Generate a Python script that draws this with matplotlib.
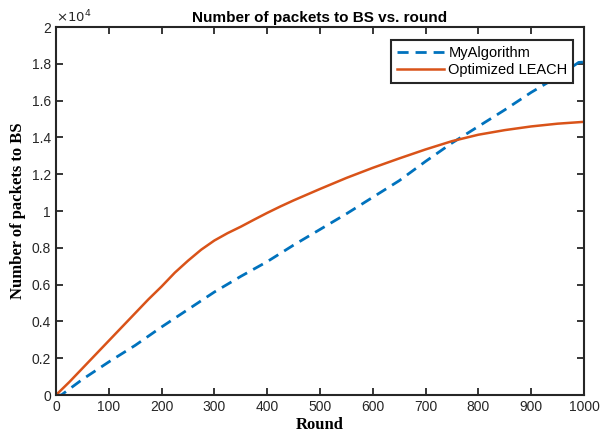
import matplotlib
matplotlib.use("Agg")
import matplotlib.pyplot as plt
from matplotlib.ticker import FuncFormatter

# data
rounds_blue = [0, 10, 50, 100, 150, 200, 250, 300, 350, 400, 450, 500,
               550, 600, 650, 700, 750, 800, 850, 900, 950, 990, 1000]
my_algorithm = [0, 0, 850, 1800, 2700, 3700, 4650, 5600, 6450, 7250, 8150, 9000,
                9850, 10750, 11650, 12700, 13700, 14600, 15500, 16450, 17300, 18080, 18100]

rounds_orange = [0, 25, 50, 75, 100, 125, 150, 175, 200, 225, 250, 275, 300, 325,
                 350, 375, 400, 425, 450, 500, 550, 600, 650, 700, 750, 800,
                 850, 900, 950, 1000]
optimized_leach = [0, 700, 1450, 2200, 2950, 3700, 4450, 5200, 5900, 6650, 7300, 7900,
                   8400, 8800, 9150, 9530, 9900, 10250, 10580, 11200, 11800, 12350,
                   12860, 13350, 13800, 14150, 14400, 14600, 14750, 14850]

x_ticks = list(range(0, 1001, 100))
y_ticks = list(range(0, 20001, 2000))

plt.rcParams['font.family'] = ['Liberation Sans', 'DejaVu Sans']

fig = plt.figure(figsize=(6.02, 4.37), dpi=100)
ax = fig.add_axes([0.093, 0.096, 0.877, 0.842])

ax.plot(rounds_blue, my_algorithm, color='#0072BD', linewidth=2, linestyle=(0, (4, 2.5)),
        label='MyAlgorithm')
ax.plot(rounds_orange, optimized_leach, color='#D95319', linewidth=1.8,
        label='Optimized LEACH')

ax.set_xlim(0, 1000)
ax.set_ylim(0, 20000)
ax.set_xticks(x_ticks)
ax.set_yticks(y_ticks)
ax.yaxis.set_major_formatter(FuncFormatter(lambda v, p: f"{v/1e4:g}"))
ax.tick_params(direction='in', length=5, width=1.3, top=True, right=True,
               labelsize=10, colors='#262626', labelcolor='#262626')
for s in ax.spines.values():
    s.set_linewidth(1.5)
    s.set_color('#262626')

ax.text(0.0, 1.005, r'$\times10^4$', transform=ax.transAxes, fontsize=9.5,
        color='#262626', ha='left', va='bottom')

ax.set_title('Number of packets to BS vs. round', fontsize=11, fontweight='bold', pad=4)
ax.set_xlabel('Round', family='Liberation Serif', fontweight='bold', fontsize=12, labelpad=2)
ax.set_ylabel('Number of packets to BS', family='Liberation Serif', fontweight='bold',
              fontsize=12, labelpad=4)

leg = ax.legend(loc='upper right', bbox_to_anchor=(0.98, 0.965), fontsize=10.5,
                fancybox=False, framealpha=1, edgecolor='#262626', handlelength=3.2,
                borderpad=0.4, labelspacing=0.25, handletextpad=0.3, borderaxespad=0)
leg.get_frame().set_linewidth(1.5)

fig.savefig('out.png', dpi=100)
